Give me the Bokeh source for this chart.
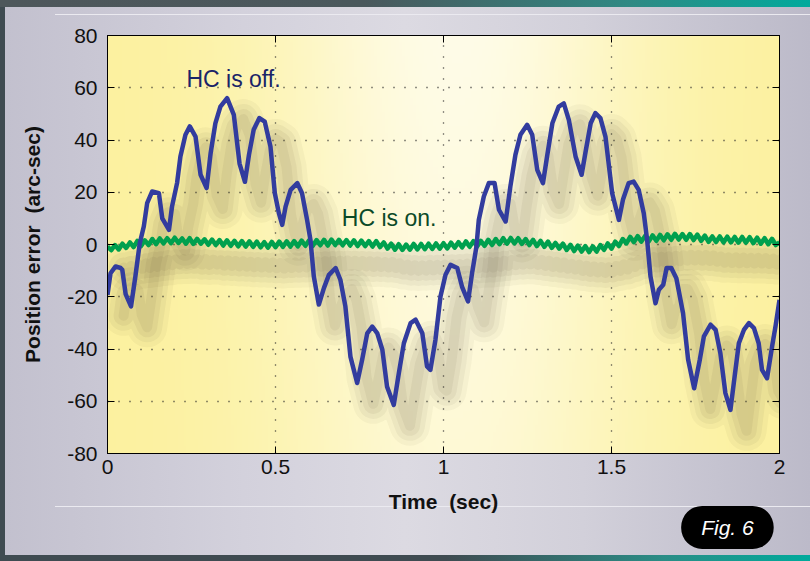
import numpy as np
from bokeh.plotting import figure
from bokeh.models import Range1d, LinearAxis, Label
from bokeh.embed import file_html
from bokeh.resources import INLINE

# ---------------- data ----------------
x_ticks = [0, 0.5, 1, 1.5, 2]
x_tick_labels = ["0", "0.5", "1", "1.5", "2"]
y_ticks = [-80, -60, -40, -20, 0, 20, 40, 60, 80]
y_tick_labels = ["-80", "-60", "-40", "-20", "0", "20", "40", "60", "80"]

# HC off (blue)
off_t = [0.000, 0.009, 0.024, 0.039, 0.044, 0.054, 0.070, 0.083, 0.096, 0.108,
         0.118, 0.133, 0.153, 0.163, 0.183, 0.192, 0.207, 0.217, 0.232, 0.245,
         0.262, 0.277, 0.295, 0.307, 0.321, 0.336, 0.356, 0.376, 0.393, 0.409,
         0.421, 0.435, 0.452, 0.468, 0.485, 0.498, 0.510, 0.520, 0.530, 0.545,
         0.565, 0.579, 0.594, 0.604, 0.614, 0.629, 0.644, 0.659, 0.679, 0.693,
         0.708, 0.723, 0.743, 0.758, 0.773, 0.788, 0.803, 0.818, 0.832, 0.852,
         0.867, 0.882, 0.902, 0.917, 0.937, 0.951, 0.961, 0.976, 0.991, 1.006,
         1.021, 1.041, 1.055, 1.073, 1.085, 1.098, 1.105, 1.120, 1.135, 1.152,
         1.165, 1.185, 1.199, 1.214, 1.229, 1.249, 1.264, 1.279, 1.296, 1.309,
         1.324, 1.343, 1.358, 1.373, 1.393, 1.411, 1.423, 1.438, 1.452, 1.467,
         1.482, 1.502, 1.522, 1.534, 1.551, 1.566, 1.581, 1.596, 1.606, 1.616,
         1.631, 1.641, 1.654, 1.664, 1.678, 1.693, 1.713, 1.728, 1.746, 1.763,
         1.775, 1.795, 1.810, 1.824, 1.839, 1.854, 1.864, 1.879, 1.894, 1.909,
         1.924, 1.938, 1.948, 1.963, 1.978, 1.988, 2.000]
off_err = [-19.3, -11.0, -8.4, -9.0, -9.7, -19.0, -23.7, -12.2, 0.5, 6.9,
           15.8, 20.3, 19.6, 10.0, 5.6, 14.5, 23.5, 33.7, 42.0, 45.2,
           41.3, 26.7, 21.6, 35.0, 46.4, 52.8, 56.0, 49.6, 31.0, 24.0,
           34.3, 43.9, 48.4, 47.0, 37.5, 19.6, 12.0, 7.5, 14.5, 20.9,
           23.5, 19.6, 9.4, 1.8, -12.2, -23.0, -16.7, -11.6, -9.0, -13.5,
           -23.7, -42.9, -53.0, -44.0, -34.0, -31.4, -34.0, -40.3, -54.4, -61.4,
           -49.3, -37.8, -30.1, -28.8, -34.0, -46.7, -48.0, -36.5, -19.9, -11.6,
           -7.8, -9.0, -16.1, -21.8, -11.0, -0.8, 9.4, 18.4, 23.5, 23.5,
           13.3, 8.8, 22.2, 34.3, 42.0, 45.8, 42.0, 28.6, 23.5, 34.3,
           46.4, 52.8, 54.0, 47.7, 33.7, 26.7, 35.6, 46.4, 50.3, 48.4,
           41.3, 19.6, 9.4, 17.1, 23.5, 24.1, 20.9, 12.0, 1.8, -12.2,
           -22.5, -17.3, -15.4, -9.0, -9.0, -12.9, -26.3, -44.0, -55.0, -44.0,
           -35.2, -30.7, -32.7, -41.6, -56.9, -63.3, -53.0, -37.8, -32.7, -30.1,
           -32.0, -37.8, -48.0, -51.2, -39.0, -31.4, -21.2]

# HC on (green), sampled evenly over 0..2 s
on_err = [-0.8, -2.2, -0.2, -1.9, 0.3, -1.3, 0.8, -1.0, 1.4, -0.6,
          1.6, -0.2, 2.1, 0.1, 2.3, 0.4, 2.4, 0.5, 2.6, 0.6,
          2.3, 0.3, 2.4, 0.2, 2.2, 0.3, 2.0, -0.1, 1.9, -0.2,
          1.7, -0.4, 1.6, -0.5, 1.4, -0.7, 1.3, -0.8, 1.2, -0.9,
          1.1, -1.1, 0.9, -1.2, 1.0, -1.0, 1.1, -0.9, 1.2, -0.8,
          1.3, -0.7, 1.5, -0.5, 1.6, -0.5, 1.7, -0.3, 1.8, -0.4,
          1.9, -0.2, 1.8, -0.3, 1.7, -0.4, 1.6, -0.6, 1.5, -0.6,
          1.3, -0.8, 1.3, -1.0, 0.8, -1.6, 0.3, -2.0, 0.1, -2.1,
          0.0, -2.0, 0.2, -1.9, 0.2, -1.8, 0.3, -1.7, 0.4, -1.6,
          0.5, -1.5, 0.7, -1.2, 0.9, -1.1, 1.2, -0.9, 1.3, -0.8,
          1.4, -0.5, 1.8, -0.2, 2.1, 0.1, 2.4, 0.3, 2.5, 0.4,
          2.4, 0.2, 2.1, -0.2, 1.8, -0.6, 1.4, -0.9, 1.1, -1.3,
          0.6, -1.6, 0.3, -2.1, -0.1, -2.5, -0.4, -2.7, -0.6, -2.9,
          -0.7, -2.7, -0.2, -2.1, 0.4, -1.6, 1.1, -0.6, 2.1, 0.4,
          2.9, 0.9, 3.2, 1.1, 3.3, 1.2, 3.5, 1.4, 3.7, 1.6,
          3.9, 1.8, 4.1, 1.9, 4.0, 1.8, 4.0, 1.7, 3.8, 1.4,
          3.4, 1.0, 3.1, 0.9, 3.1, 0.8, 3.0, 0.8, 2.9, 0.7,
          2.9, 0.7, 2.8, 0.5, 2.6, 0.3, 2.4, 0.1, 2.2, -0.2,
          0.8]
on_t = np.linspace(0, 2, len(on_err))

# ---------------- figure ----------------
FONT = "Liberation Sans"
p = figure(width=810, height=561, x_range=Range1d(0, 2), y_range=Range1d(-80, 80),
           output_backend="svg", toolbar_location=None,
           min_border_left=107, min_border_right=31, min_border_top=35, min_border_bottom=108)

p.styles = {
    "background": (
        "linear-gradient(90deg,#4e575b 0%,#4a585c 45%,#2f8a84 78%,#00aa9c 100%) 0 0 / 100% 7px no-repeat, "
        "linear-gradient(90deg,#3f4b51 0%,#3f4b51 55%,#2a8d86 82%,#00aa9c 100%) 0 555px / 100% 6px no-repeat, "
        "linear-gradient(#3f4b51,#3f4b51) 0 0 / 5px 100% no-repeat, "
        "linear-gradient(#ebeaf0,#ebeaf0) 55px 14px / 755px 1px no-repeat, "
        "linear-gradient(#ebeaf0,#ebeaf0) 55px 506px / 755px 1px no-repeat, "
        "linear-gradient(90deg,#c2c0ce 0%,#d3d1dc 30%,#dcdae2 50%,#d2d0da 72%,#bcbac9 100%)"),
}
p.border_fill_color = None
p.border_fill_alpha = 0
p.background_fill_color = "#fdf3a6"
p.outline_line_color = "black"
p.outline_line_width = 1

# yellow gradient of the plotting area (style only)
nx, ny = 240, 60
gx = np.linspace(0, 1, nx)[None, :]
gy = np.linspace(0, 1, ny)[:, None]
light = np.exp(-((gx - 0.52) / 0.28) ** 2) * (0.75 + 0.25 * gy)
light = np.clip(light, 0, 1)
base = np.array([252, 241, 158], dtype=float)
top = np.array([255, 252, 232], dtype=float)
rgb = base[None, None, :] * (1 - light[..., None]) + top[None, None, :] * light[..., None]
img = np.empty((ny, nx), dtype=np.uint32)
view = img.view(dtype=np.uint8).reshape((ny, nx, 4))
view[..., :3] = rgb.astype(np.uint8)
view[..., 3] = 255
p.image_rgba(image=[img], x=0, y=-80, dw=2, dh=160, level="image")

# grid
for g in (p.xgrid, p.ygrid):
    g.grid_line_color = "#222222"
    g.grid_line_dash = "1 10"
    g.grid_line_width = 1.3
p.xgrid.ticker = x_ticks
p.ygrid.ticker = y_ticks

# axes
def style_axis(ax):
    ax.major_tick_in = 7
    ax.major_tick_out = 0
    ax.minor_tick_line_color = None
    ax.major_tick_line_color = "black"
    ax.axis_line_color = "black"
    ax.major_label_text_font = FONT
    ax.major_label_text_font_size = "21px"
    ax.major_label_text_color = "#111111"
    ax.axis_label_text_font = FONT
    ax.axis_label_text_font_style = "bold"
    ax.axis_label_text_font_size = "21px"
    ax.axis_label_text_color = "#111111"

p.xaxis.ticker = x_ticks
p.xaxis.major_label_overrides = dict(zip(x_ticks, x_tick_labels))
p.yaxis.ticker = y_ticks
p.yaxis.major_label_overrides = dict(zip(y_ticks, y_tick_labels))
style_axis(p.xaxis[0])
style_axis(p.yaxis[0])
p.xaxis.axis_label = "Time\u00a0\u00a0(sec)"
p.yaxis.axis_label = "Position error\u00a0\u00a0(arc-sec)"
p.xaxis.major_label_standoff = 6
p.yaxis.major_label_standoff = 10
p.xaxis.axis_label_standoff = 13
p.yaxis.axis_label_standoff = 20

top_ax = LinearAxis(ticker=x_ticks, major_label_overrides={t: "" for t in x_ticks})
right_ax = LinearAxis(ticker=y_ticks, major_label_overrides={t: "" for t in y_ticks})
style_axis(top_ax)
style_axis(right_ax)
p.add_layout(top_ax, "above")
p.add_layout(right_ax, "right")

# soft drop shadows (style)
sdx, sdy = 0.048, -8.0
off_t_a = np.array(off_t); off_y_a = np.array(off_err)
on_y_a = np.array(on_err)
for w, a in ((40, 0.04), (30, 0.05), (20, 0.06), (10, 0.06)):
    p.line(off_t_a + sdx, off_y_a + sdy, line_width=w, line_color="#3e3620",
           line_alpha=a, line_join="round", line_cap="round")
    p.line(on_t + sdx, on_y_a + sdy, line_width=w, line_color="#3e3620",
           line_alpha=a, line_join="round", line_cap="round")

# data lines
p.line(on_t, on_err, line_color="#00A04E", line_width=4.5, line_join="round")
p.line(off_t, off_err, line_color="#323C9E", line_width=4.5, line_join="round")

# texts
p.add_layout(Label(x=0.375, y=63.5, text="HC is off.", text_font=FONT,
                   text_font_size="23px", text_color="#1B2468",
                   text_align="center", text_baseline="middle"))
p.add_layout(Label(x=0.838, y=10.3, text="HC is on.", text_font=FONT,
                   text_font_size="23px", text_color="#0B4A28",
                   text_align="center", text_baseline="middle"))
# badge: lives in the bottom side panel so it is not clipped to the frame
p.add_layout(Label(x=1.845, y=-108.3, text="Fig. 6", text_font=FONT,
                   text_font_size="21px", text_font_style="italic", text_color="white",
                   text_align="center", text_baseline="middle",
                   background_fill_color="black", background_fill_alpha=1,
                   padding=dict(left=20, right=20, top=10, bottom=10),
                   border_radius=21), "below")

open("out.html", "w").write(file_html(p, INLINE))
